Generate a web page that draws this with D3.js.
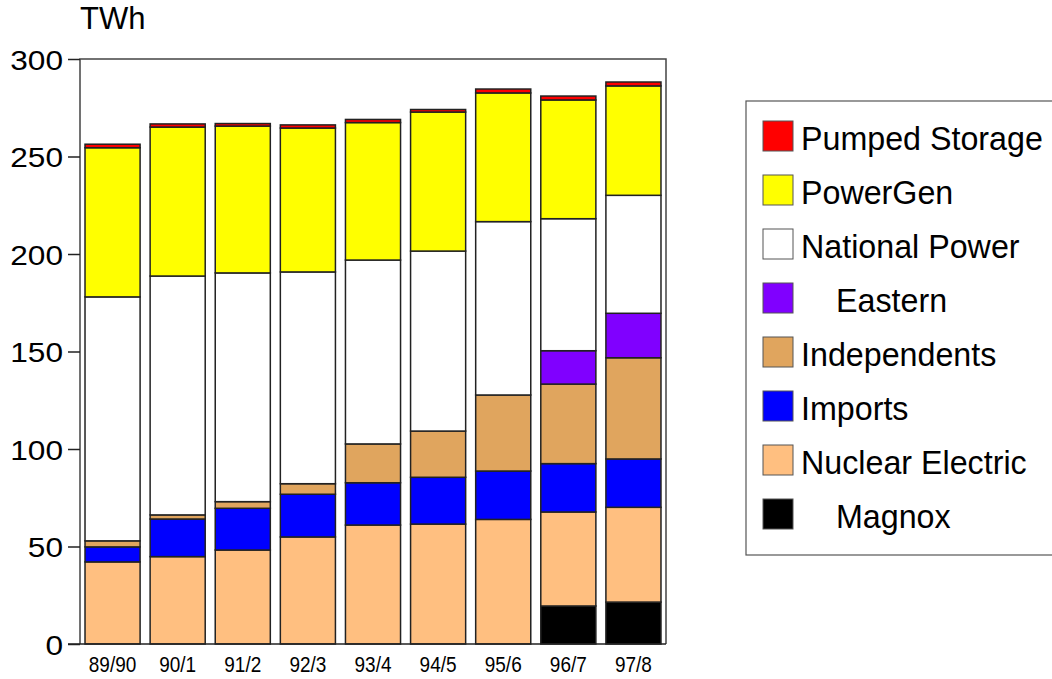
<!DOCTYPE html>
<html>
<head>
<meta charset="utf-8">
<script src="https://cdn.jsdelivr.net/npm/d3@7"></script>
<style>
  body { margin: 0; background: #fff; }
  text { font-family: "Liberation Sans", Arial, sans-serif; }
</style>
</head>
<body>
<svg class="chart" width="1052" height="679"></svg>
<script>
var years = ["89/90", "90/1", "91/2", "92/3", "93/4", "94/5", "95/6", "96/7", "97/8"];

// TWh per company (bottom to top)
var magnox = [0, 0, 0, 0, 0, 0, 0, 19.5, 21.5];
var nuclear = [42.1, 44.8, 48.2, 54.9, 61.0, 61.5, 63.9, 48.2, 48.6];
var imports = [7.7, 19.3, 21.4, 21.9, 21.7, 24.0, 24.8, 24.8, 24.8];
var independents = [3.1, 2.1, 3.4, 5.4, 19.9, 23.7, 39.0, 40.8, 51.9];
var eastern = [0, 0, 0, 0, 0, 0, 0, 17.1, 22.8];
var nationalPower = [125.1, 122.5, 117.3, 108.6, 94.3, 92.3, 88.9, 67.7, 60.5];
var powerGen = [76.5, 76.4, 75.3, 73.8, 70.5, 71.3, 66.0, 60.9, 56.1];
var pumped = [1.8, 1.6, 1.3, 1.6, 1.6, 1.3, 2.0, 2.0, 2.0];

var keys = ["Magnox", "Nuclear Electric", "Imports", "Independents", "Eastern",
  "National Power", "PowerGen", "Pumped Storage"];
var colours = ["#000000", "#ffbf80", "#0000ff", "#e0a55e", "#8000ff",
  "#ffffff", "#ffff00", "#ff0000"];
var yTicks = [0, 50, 100, 150, 200, 250, 300];

var series = [magnox, nuclear, imports, independents, eastern, nationalPower, powerGen, pumped];
var data = years.map(function (yr, i) {
  var d = { year: yr };
  keys.forEach(function (k, j) { d[k] = series[j][i]; });
  return d;
});

var svg = d3.select(".chart"),
  margin = { top: 59, right: 386, bottom: 35, left: 80 },
  width = +svg.attr("width") - margin.left - margin.right,
  height = +svg.attr("height") - margin.top - margin.bottom,
  g = svg.append("g")
    .attr("transform", "translate(" + margin.left + "," + margin.top + ")");

var x = d3.scaleBand()
  .domain(years)
  .range([0, width])
  .paddingInner(0.154)
  .paddingOuter(0.077);

var y = d3.scaleLinear().domain([0, 300]).range([height, 0]);

var z = d3.scaleOrdinal().domain(keys).range(colours);

// bars
g.append("g")
  .selectAll("g")
  .data(d3.stack().keys(keys)(data))
  .enter()
  .append("g")
  .attr("fill", function (d) { return z(d.key); })
  .selectAll("rect")
  .data(function (d) { return d.filter(function (p) { return p[1] - p[0] > 0; }); })
  .enter()
  .append("rect")
  .attr("x", function (d) { return x(d.data.year); })
  .attr("y", function (d) { return y(d[1]); })
  .attr("width", x.bandwidth())
  .attr("height", function (d) { return y(d[0]) - y(d[1]); })
  .attr("stroke", "#222")
  .attr("stroke-width", 1.5);

// frame
g.append("path")
  .attr("d", "M0," + height + "V0H" + width + "V" + height)
  .attr("fill", "none")
  .attr("stroke", "#444")
  .attr("stroke-width", 1.5);

// y axis
var yAxis = g.append("g")
  .call(d3.axisLeft(y).tickValues(yTicks).tickSize(12).tickFormat(d3.format("d")));
yAxis.select(".domain").remove();
yAxis.selectAll("line").attr("stroke", "#222").attr("stroke-width", 1.5);
yAxis.selectAll("text")
  .attr("font-size", 28)
  .attr("fill", "#000")
  .attr("x", null)
  .attr("dy", "0.36em")
  .attr("transform", "translate(-17,0) scale(1.13,1)");

// bottom line
g.append("line")
  .attr("x1", -12).attr("x2", width)
  .attr("y1", height).attr("y2", height)
  .attr("stroke", "#222").attr("stroke-width", 1.5);

// x labels
g.append("g")
  .selectAll("text")
  .data(years)
  .enter()
  .append("text")
  .attr("transform", function (d) {
    return "translate(" + (x(d) + x.bandwidth() / 2) + "," + (height + 28) + ") scale(1,1.15)";
  })
  .attr("text-anchor", "middle")
  .attr("font-size", 19)
  .text(function (d) { return d; });

// unit
svg.append("text")
  .attr("x", 80)
  .attr("y", 29)
  .attr("font-size", 31)
  .text("TWh");

// legend
var legendBox = svg.append("g").attr("transform", "translate(746,101)");
legendBox.append("rect")
  .attr("width", 320)
  .attr("height", 454)
  .attr("fill", "#fff")
  .attr("stroke", "#555")
  .attr("stroke-width", 1.2);

var legend = legendBox.selectAll(".item")
  .data(keys.slice().reverse())
  .enter()
  .append("g")
  .attr("class", "item")
  .attr("transform", function (d, i) { return "translate(17," + (20 + i * 54) + ")"; });

legend.append("rect")
  .attr("width", 30)
  .attr("height", 30)
  .attr("fill", z)
  .attr("stroke", "#555")
  .attr("stroke-width", 1);

legend.append("text")
  .attr("transform", function (d) {
    var indent = (d === "Eastern" || d === "Magnox") ? 73 : 38;
    return "translate(" + indent + ",29) scale(1.04,1.1)";
  })
  .attr("font-size", 31)
  .text(function (d) { return d; });
</script>
</body>
</html>
